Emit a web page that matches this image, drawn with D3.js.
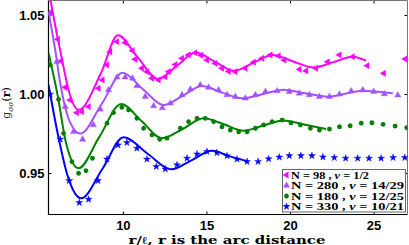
<!DOCTYPE html>
<html>
<head>
<meta charset="utf-8">
<script src="https://cdn.jsdelivr.net/npm/d3@7"></script>
<style>
  body { margin: 0; background: #fff; }
  svg { display: block; }
</style>
</head>
<body>
<div id="chart"></div>
<script>
const WIDTH = 409;
const HEIGHT = 245;

const X_DOMAIN = [5.55, 27.03];
const Y_DOMAIN = [0.9237, 1.0592];
const X_TICKS = [10, 15, 20, 25];
const Y_TICKS = [0.95, 1.00, 1.05];

// fitted curves (extrema and crossings)
const n98Curve = [[5.55,1.066],[6.05,1.038],[6.45,1.017],[6.75,1.0025],[7.35,0.990],[8.7,1.0135],[9.7,1.0372],[10.9,1.023],[12.1,1.0095],[13.25,1.018],[14.35,1.0262],[15.5,1.0205],[16.65,1.0147],[17.8,1.0197],[18.95,1.0247],[20.2,1.0206],[21.4,1.0168],[22.6,1.0202],[23.75,1.0236],[24.55,1.0211]];
const n280Curve = [[5.55,1.052],[5.95,1.028],[6.25,1.007],[6.8,0.983],[7.45,0.975],[8.75,0.994],[9.98,1.0135],[11.2,1.003],[12.44,0.993],[13.6,0.999],[14.74,1.005],[15.9,1.001],[17.13,0.9973],[18.4,1.0],[19.6,1.0027],[20.9,1.0005],[22.27,0.9983],[23.3,1.0002],[24.35,1.0021],[26.15,1.0004]];
const n180Curve = [[5.55,1.026],[6.1,0.999],[6.6,0.969],[7.35,0.953],[8.6,0.973],[9.9,0.9937],[11.1,0.983],[12.34,0.972],[13.6,0.978],[14.83,0.9846],[16.0,0.981],[17.23,0.9768],[18.4,0.980],[19.6,0.9832],[20.9,0.9805],[22.16,0.9778]];
const n330Curve = [[5.55,1.006],[6.1,0.975],[6.7,0.948],[7.5,0.934],[8.8,0.953],[10.04,0.9726],[11.5,0.962],[12.9,0.9523],[14.1,0.958],[15.33,0.9641],[16.4,0.9605],[17.5,0.9572]];

// simulation points
const n98Points = [[5.65,1.0515],[6.11,1.0346],[6.31,1.0209],[6.55,1.0042],[6.85,0.9962],[7.25,0.9882],[7.55,0.9888],[7.95,0.9920],[8.54,1.0036],[8.78,1.0089],[9.05,1.0184],[9.24,1.0268],[9.65,1.0331],[10.14,1.0325],[10.58,1.0274],[10.74,1.0220],[11.14,1.0163],[11.44,1.0141],[11.74,1.0099],[12.14,1.0089],[12.54,1.0109],[12.74,1.0141],[13.14,1.0186],[13.54,1.0226],[13.93,1.0247],[14.33,1.0261],[14.68,1.0245],[15.03,1.0215],[15.53,1.0194],[15.93,1.0163],[16.33,1.0143],[16.73,1.0141],[17.33,1.0163],[17.83,1.0201],[18.33,1.0226],[18.83,1.0247],[19.32,1.0241],[19.66,1.0215],[20.57,1.0156],[20.96,1.0146],[21.56,1.0163],[22.26,1.0204],[22.96,1.0247],[23.75,1.0236],[24.62,1.0179],[25.61,1.0131],[26.89,1.0222]];
const n280Points = [[5.59,1.0506],[6.05,1.0204],[6.55,0.9920],[7.05,0.9761],[7.59,0.9713],[8.23,0.9804],[8.65,0.9903],[9.14,1.0025],[9.65,1.0106],[10.14,1.0106],[10.58,1.0099],[10.84,1.0051],[11.34,0.9983],[11.84,0.9924],[12.36,0.9911],[12.84,0.9941],[13.54,0.9994],[14.04,1.0030],[14.63,1.0057],[15.13,1.0042],[15.73,1.0025],[16.23,0.9994],[16.73,0.9983],[17.33,0.9973],[17.93,0.9994],[18.53,1.0015],[19.23,1.0019],[19.96,1.0015],[20.56,1.0004],[21.16,0.9994],[21.76,0.9983],[22.36,0.9983],[22.96,0.9998],[23.66,1.0019],[24.35,1.0025],[25.01,1.0015],[25.65,1.0],[26.45,0.9992]];
const n180Points = [[5.65,1.0184],[6.15,0.9966],[6.45,0.9751],[6.95,0.9572],[7.35,0.9498],[7.79,0.9515],[8.18,0.9593],[9.05,0.9815],[9.44,0.9882],[9.94,0.9916],[10.34,0.9899],[10.84,0.9846],[11.24,0.9783],[11.74,0.9741],[12.2,0.9713],[12.64,0.972],[13.44,0.9783],[13.93,0.9825],[14.44,0.9846],[14.93,0.9846],[15.43,0.9825],[15.93,0.9793],[16.43,0.9772],[16.93,0.9761],[17.43,0.9761],[17.93,0.9783],[18.42,0.9804],[18.93,0.9825],[19.53,0.9835],[20.06,0.9818],[20.62,0.9804],[21.22,0.9783],[21.76,0.9772],[22.36,0.9778],[22.96,0.9793],[23.6,0.9799],[24.26,0.9815],[24.9,0.9818],[25.57,0.9808],[26.29,0.9797],[26.98,0.9787]];
const n330Points = [[5.65,0.9998],[6.25,0.9713],[6.79,0.9451],[7.39,0.9312],[7.95,0.9333],[8.51,0.9451],[9.05,0.9587],[9.71,0.9677],[10.24,0.9692],[10.84,0.9656],[11.44,0.9587],[12.0,0.954],[12.54,0.9525],[13.24,0.9551],[13.84,0.9593],[14.44,0.962],[15.03,0.9635],[15.63,0.9628],[16.23,0.9608],[16.83,0.9587],[17.43,0.9572],[18.09,0.9572],[18.72,0.9589],[19.36,0.96],[19.96,0.9609],[20.65,0.9609],[21.31,0.9609],[21.97,0.9601],[22.65,0.9597],[23.33,0.9593],[24.05,0.9593],[24.73,0.9593],[25.45,0.9593],[26.17,0.9597],[26.87,0.9597]];

const LEGEND_N = ["98", "280", "180", "330"];
const LEGEND_NU = ["1/2", "14/29", "12/25", "10/21"];

const COLORS = ["#ff00ff", "#a452ff", "#008000", "#0000ff"];
const MARKERS = ["triLeft", "triUp", "asterisk", "star"];

const x = d3.scaleLinear().domain(X_DOMAIN).range([48.5, 407.5]);
const y = d3.scaleLinear().domain(Y_DOMAIN).range([214.5, 0.5]);

const svg = d3.select("#chart")
  .append("svg")
  .attr("width", WIDTH)
  .attr("height", HEIGHT);

svg.append("defs").append("clipPath")
  .attr("id", "plot-clip")
  .append("rect")
  .attr("x", x.range()[0])
  .attr("y", y.range()[1])
  .attr("width", x.range()[1] - x.range()[0])
  .attr("height", y.range()[0] - y.range()[1]);

function markerPath(kind) {
  if (kind === "triLeft" || kind === "triUp") {
    return d3.symbol().type(d3.symbolTriangle).size(17)();
  }
  if (kind === "star") {
    return d3.symbol().type(d3.symbolStar).size(15)();
  }
  const r = 2.4, k = r * 0.707;
  return `M${-r},0L${r},0M0,${-r}L0,${r}M${-k},${-k}L${k},${k}M${-k},${k}L${k},${-k}`;
}

function drawMarker(sel, kind, color) {
  const p = sel.append("path").attr("d", markerPath(kind));
  if (kind === "asterisk") {
    p.attr("fill", "none").attr("stroke", color).attr("stroke-width", 1.4);
  } else {
    p.attr("fill", color).attr("stroke", color).attr("stroke-width", 0.4);
  }
  if (kind === "triLeft") p.attr("transform", "rotate(-90)");
  return p;
}

// axes: inward ticks on all four sides
const plot = svg.append("g");

const bottomAxis = d3.axisBottom(x).tickValues(X_TICKS).tickSize(-3).tickPadding(6).tickFormat(d3.format("d"));
const leftAxis = d3.axisLeft(y).tickValues(Y_TICKS).tickSize(-3).tickPadding(4).tickFormat(d3.format(".2f"));

function styleAxis(g) {
  g.select(".domain").remove();
  g.selectAll(".tick line").attr("stroke", "#000");
  g.selectAll(".tick text")
    .attr("fill", "#000")
    .style("font-family", "'Liberation Sans', Arial, sans-serif")
    .style("font-weight", "bold")
    .style("font-size", "13px");
}

plot.append("g").attr("transform", `translate(0,${y.range()[0]})`).call(bottomAxis).call(styleAxis);
plot.append("g").attr("transform", `translate(${x.range()[0]},0)`).call(leftAxis).call(styleAxis);
plot.append("g").attr("transform", `translate(0,${y.range()[1]})`)
  .call(d3.axisTop(x).tickValues(X_TICKS).tickSize(-3).tickFormat(""))
  .call(styleAxis);
plot.append("g").attr("transform", `translate(${x.range()[1]},0)`)
  .call(d3.axisRight(y).tickValues(Y_TICKS).tickSize(-3).tickFormat(""))
  .call(styleAxis);

// frame
svg.append("path")
  .attr("d", `M${x.range()[0]},${y.range()[1]}V${y.range()[0]}H${x.range()[1]}`)
  .attr("fill", "none").attr("stroke", "#000").attr("stroke-width", 1.2);
svg.append("path")
  .attr("d", `M${x.range()[0]},${y.range()[1]}H${x.range()[1]}V${y.range()[0]}`)
  .attr("fill", "none").attr("stroke", "#777").attr("stroke-width", 1);

// curves and points
const curves = [n98Curve, n280Curve, n180Curve, n330Curve];
const points = [n98Points, n280Points, n180Points, n330Points];

const line = d3.line()
  .x(d => x(d[0]))
  .y(d => y(d[1]))
  .curve(d3.curveMonotoneX);

const series = svg.append("g").attr("clip-path", "url(#plot-clip)");

curves.forEach((c, i) => {
  series.append("path")
    .datum(c)
    .attr("d", line)
    .attr("fill", "none")
    .attr("stroke", COLORS[i])
    .attr("stroke-width", 2);
});

points.forEach((pts, i) => {
  series.append("g")
    .selectAll("g")
    .data(pts)
    .enter()
    .append("g")
    .attr("transform", d => `translate(${x(d[0])},${y(d[1])})`)
    .each(function () { drawMarker(d3.select(this), MARKERS[i], COLORS[i]); });
});

// axis titles
svg.append("text")
  .attr("x", 227)
  .attr("y", 243.5)
  .attr("text-anchor", "middle")
  .attr("textLength", 197)
  .attr("lengthAdjust", "spacingAndGlyphs")
  .style("font-family", "'DejaVu Serif', serif")
  .style("font-weight", "bold")
  .style("font-size", "10.5px")
  .text("r/ℓ,  r is the arc distance");

const ylab = svg.append("text")
  .attr("transform", "translate(10,103) rotate(-90)")
  .attr("text-anchor", "middle")
  .style("font-family", "'DejaVu Serif', serif")
  .style("font-size", "11px")
  .attr("fill", "#333");
ylab.append("tspan").text("g");
ylab.append("tspan").attr("dy", 2.5).style("font-size", "7.5px").style("font-style", "italic").text("σσ");
ylab.append("tspan").attr("dy", -2.5).attr("fill", "#000").text("(");
ylab.append("tspan").attr("fill", "#000").style("font-weight", "bold").text("r");
ylab.append("tspan").attr("fill", "#000").text(")");

// legend
const legend = svg.append("g");
legend.append("rect")
  .attr("x", 282.5).attr("y", 169.5)
  .attr("width", 123).attr("height", 42.5)
  .attr("fill", "#fff").attr("stroke", "#666").attr("stroke-width", 1);

const ROW_Y = [175, 185.5, 196, 206.5];
const TEXT_LEN = [78, 113, 113, 113];

LEGEND_N.forEach((n, i) => {
  const row = legend.append("g").attr("transform", `translate(0,${ROW_Y[i]})`);
  drawMarker(row.append("g").attr("transform", "translate(286.5,0)"), MARKERS[i], COLORS[i]);
  const t = row.append("text")
    .attr("x", 291)
    .attr("y", 3.6)
    .attr("textLength", TEXT_LEN[i])
    .attr("lengthAdjust", "spacingAndGlyphs")
    .style("font-family", "'Liberation Serif', 'Times New Roman', serif")
    .style("font-weight", "bold")
    .style("font-size", "10.5px");
  t.append("tspan").text(`N = ${n} , `);
  t.append("tspan").style("font-style", "italic").text("ν");
  t.append("tspan").text(` = ${LEGEND_NU[i]}`);
});
</script>
</body>
</html>
